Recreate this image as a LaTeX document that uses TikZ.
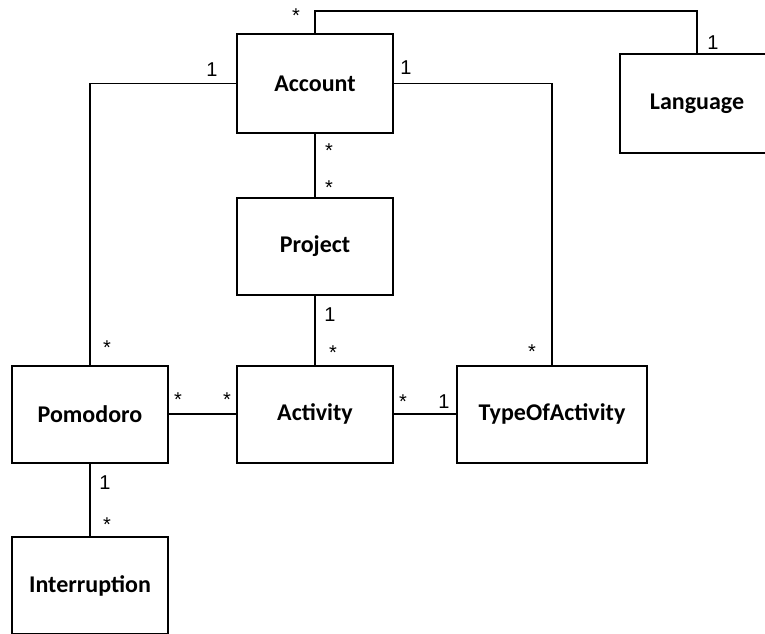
\documentclass[tikz,border=0pt]{standalone}
\usepackage{fontspec}
\setmainfont{Carlito}
\newfontfamily\mulfont{Liberation Sans}
\tikzset{
  entity/.style={draw, line width=1.5pt, minimum width=156*0.75pt, minimum height=97*0.75pt,
    inner sep=0pt, font=\fontsize{18}{20}\selectfont\bfseries},
  mult/.style={inner sep=0pt, font=\mulfont\fontsize{15}{17}\selectfont},
  assoc/.style={line width=1.2pt}
}
\begin{document}
\begin{tikzpicture}[x=0.75pt,y=-0.75pt]
      \useasboundingbox (0,0) rectangle (765,633);
      \draw
        (315,83.5) node[entity, minimum height=99*0.75pt] (acc){Account}
        (697,103.5) node[entity, minimum width=154*0.75pt, minimum height=99*0.75pt] (lang){Language}
        (315,246) node[entity] (proj){Project}
        (90,414) node[entity] (pom){Pomodoro}
        (315,414) node[entity] (act){Activity}
        (552,414) node[entity, minimum width=190*0.75pt] (type){TypeOfActivity}
        (90,585.5) node[entity] (intr){Interruption};
      \begin{scope}[assoc]
        \draw (acc.north) -- ++(0,-22) -| (lang.north);
        \draw (acc.west) -| (pom.north);
        \draw (acc.east) -| (type.north);
        \draw (acc) to (proj);
        \draw (proj) to (act);
        \draw (pom) to (act);
        \draw (act) to (type);
        \draw (pom) to (intr);
      \end{scope}
      % multiplicities
      \draw
        (296,16) node[mult] (m1){*}
        (713,43) node[mult] (m2){1}
        (212,70) node[mult] (m3){1}
        (406,68) node[mult] (m4){1}
        (329,151) node[mult] (m5){*}
        (329,188) node[mult] (m6){*}
        (330,315) node[mult] (m7){1}
        (333,353) node[mult] (m8){*}
        (107,348) node[mult] (m9){*}
        (532,352) node[mult] (m10){*}
        (178,400) node[mult] (m11){*}
        (227,400) node[mult] (m12){*}
        (403,402) node[mult] (m13){*}
        (444,402) node[mult] (m14){1}
        (105,483) node[mult] (m15){1}
        (107,525) node[mult] (m16){*};
    \end{tikzpicture}
\end{document}
